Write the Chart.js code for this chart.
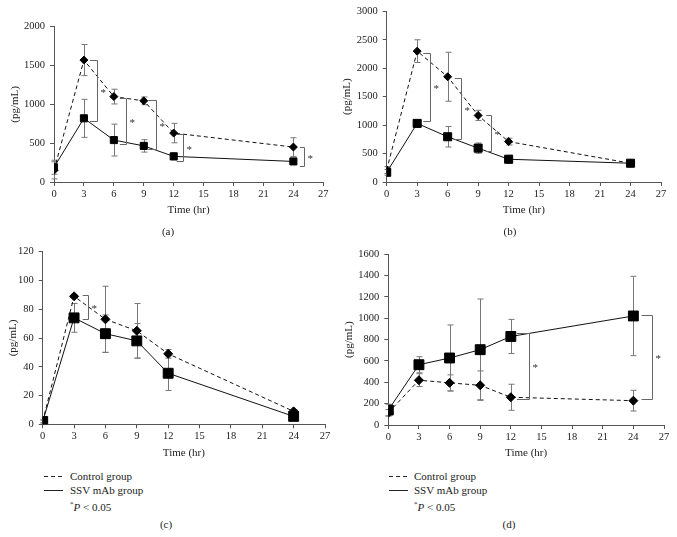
<!DOCTYPE html>
<html>
<head>
<meta charset="utf-8">
<script src="https://cdn.jsdelivr.net/npm/chart.js@4.4.0/dist/chart.umd.min.js"></script>
<style>
  body { margin: 0; background: #fff; width: 677px; height: 537px; position: relative; overflow: hidden; font-family: 'Liberation Serif', serif; color: #222; }
  .panel { position: absolute; }
  .t { position: absolute; font-size: 11px; height: 14px; line-height: 14px; white-space: nowrap; }
  .c { transform: translateX(-50%); }
  svg { position: absolute; overflow: visible; }
</style>
</head>
<body>
<div class="panel" style="left:0;top:0"><canvas id="chartA" width="340" height="225"></canvas></div>
<div class="panel" style="left:340px;top:0"><canvas id="chartB" width="337" height="225"></canvas></div>
<div class="panel" style="left:0;top:240px"><canvas id="chartC" width="340" height="225"></canvas></div>
<div class="panel" style="left:340px;top:240px"><canvas id="chartD" width="337" height="225"></canvas></div>

<div class="t c" style="left:168px;top:224px">(a)</div>
<div class="t c" style="left:510px;top:224px">(b)</div>
<div class="t c" style="left:166px;top:517px">(c)</div>
<div class="t c" style="left:509px;top:517px">(d)</div>

<svg style="left:44px;top:476px" width="20" height="2"><line x1="0" y1="0.5" x2="19" y2="0.5" stroke="#222" stroke-dasharray="4,3"/></svg>
<svg style="left:44px;top:490px" width="20" height="2"><line x1="0" y1="0.5" x2="19" y2="0.5" stroke="#222"/></svg>
<div class="t" style="left:70px;top:469px">Control group</div>
<div class="t" style="left:70px;top:483px">SSV mAb group</div>
<div class="t" style="left:70px;top:497px"><sup style="font-size:7px">*</sup><i>P</i> &lt; 0.05</div>

<svg style="left:389px;top:476px" width="20" height="2"><line x1="0" y1="0.5" x2="19" y2="0.5" stroke="#222" stroke-dasharray="4,3"/></svg>
<svg style="left:389px;top:490px" width="20" height="2"><line x1="0" y1="0.5" x2="19" y2="0.5" stroke="#222"/></svg>
<div class="t" style="left:414px;top:469px">Control group</div>
<div class="t" style="left:414px;top:483px">SSV mAb group</div>
<div class="t" style="left:414px;top:497px"><sup style="font-size:7px">*</sup><i>P</i> &lt; 0.05</div>

<script>
const times = [0, 3, 6, 9, 12, 24];

// (a)
const ctrlA = [150, 1570, 1100, 1045, 630, 450];
const ctrlAErr = [110, 200, 95, 50, 125, 120];
const ssvA = [190, 820, 540, 465, 330, 265];
const ssvAErr = [90, 245, 205, 80, 45, 40];
const brA_x = [4.3, 7.2, 10.2, 12.9, 25.05];
const brA_from = [3.6, 6.6, 9.45, 12.3, 24.65];
const brA_top = [1570, 1079, 1058, 621, 450];
const brA_bot = [780, 492, 420, 266, 205];

// (b)
const ctrlB = [210, 2300, 1850, 1170, 710, 330];
const ctrlBErr = [60, 200, 430, 90, 60, 20];
const ssvB = [170, 1030, 795, 595, 400, 330];
const ssvBErr = [50, 30, 180, 90, 70, 30];
const brB_x = [4.25, 7.27, 10.3];
const brB_from = [3.6, 6.7, 9.8];
const brB_top = [2259, 1821, 1179];
const brB_bot = [1080, 753, 537];

// (c)
const ctrlC = [2, 89, 73, 65, 49, 9];
const ctrlCErr = [1, 1, 23, 19, 3, 1];
const ssvC = [2, 74, 63, 58, 35.5, 5.5];
const ssvCErr = [1, 10, 13, 12, 12, 1];
const brC_x = [4.31];
const brC_from = [3.83];
const brC_top = [90];
const brC_bot = [73];

// (d)
const ctrlD = [115, 420, 395, 372, 260, 228];
const ctrlDErr = [30, 60, 75, 135, 122, 97];
const ssvD = [140, 565, 628, 706, 830, 1022];
const ssvDErr = [55, 75, 310, 475, 160, 372];
const brD_x = [13.8, 25.8];
const brD_from = [12.6, 24.8];
const brD_top = [858, 1028];
const brD_bot = [248, 242];

const FONT = 'Liberation Serif';
const AXIS = '#555';

// error bars under the markers, significance brackets on top
const extras = {
  id: 'extras',
  beforeDatasetsDraw(chart, args, opts) {
    const { ctx, scales: { x, y } } = chart;
    ctx.save();
    ctx.strokeStyle = '#777';
    ctx.lineWidth = 1;
    opts.errors.forEach((errs, di) => {
      chart.data.datasets[di].data.forEach((p, i) => {
        const px = Math.round(x.getPixelForValue(p.x)) + 0.5;
        const top = y.getPixelForValue(p.y + errs[i]);
        const bot = y.getPixelForValue(Math.max(0, p.y - errs[i]));
        ctx.beginPath();
        ctx.moveTo(px, top); ctx.lineTo(px, bot);
        ctx.moveTo(px - 3, top); ctx.lineTo(px + 3, top);
        ctx.moveTo(px - 3, bot); ctx.lineTo(px + 3, bot);
        ctx.stroke();
      });
    });
    ctx.restore();
  },
  afterDatasetsDraw(chart, args, opts) {
    const { ctx, scales: { x, y } } = chart;
    const b = opts.brackets;
    ctx.save();
    ctx.strokeStyle = '#666';
    ctx.fillStyle = '#333';
    ctx.lineWidth = 1;
    ctx.font = '11px ' + FONT;
    ctx.textBaseline = 'middle';
    b.x.forEach((bx, i) => {
      const px = Math.round(x.getPixelForValue(bx)) + 0.5;
      const fx = x.getPixelForValue(b.from[i]);
      const ty = Math.round(y.getPixelForValue(b.top[i])) + 0.5;
      const by = Math.round(y.getPixelForValue(b.bot[i])) + 0.5;
      ctx.beginPath();
      ctx.moveTo(fx, ty); ctx.lineTo(px, ty); ctx.lineTo(px, by); ctx.lineTo(fx, by);
      ctx.stroke();
      ctx.fillText('*', px + 3, (ty + by) / 2 + 2);
    });
    ctx.restore();
  }
};

function makePanel(id, p) {
  const canvas = document.getElementById(id);
  const W = canvas.width, H = canvas.height;
  const pts = vals => times.map((t, i) => ({ x: t, y: vals[i] }));
  new Chart(canvas, {
    type: 'line',
    data: {
      datasets: [{
        label: 'Control group',
        data: pts(p.ctrl),
        borderColor: '#111',
        borderWidth: 1,
        borderDash: [4, 3],
        pointStyle: 'rectRot',
        pointRadius: p.diamond,
        pointBackgroundColor: '#000',
        pointBorderColor: '#000',
        tension: 0
      }, {
        label: 'SSV mAb group',
        data: pts(p.ssv),
        borderColor: '#111',
        borderWidth: 1,
        pointStyle: 'rect',
        pointRadius: p.square,
        pointBackgroundColor: '#000',
        pointBorderColor: '#000',
        tension: 0
      }]
    },
    options: {
      responsive: false,
      animation: false,
      layout: { padding: { left: 0, top: p.top, right: W - p.right, bottom: 0 } },
      plugins: {
        legend: { display: false },
        tooltip: { enabled: false },
        extras: { errors: [p.ctrlErr, p.ssvErr], brackets: p.br }
      },
      scales: {
        x: {
          type: 'linear', min: 0, max: 27,
          grid: { drawOnChartArea: false, drawTicks: true, tickLength: 4, color: AXIS },
          border: { color: AXIS, width: 1 },
          ticks: { stepSize: 3, autoSkip: false, maxRotation: 0, padding: 2, color: '#222', font: { family: FONT, size: 10.5 } },
          title: { display: true, text: 'Time (hr)', color: '#222', font: { family: FONT, size: 11 }, padding: { top: 0, bottom: H - p.xTitle - 6.6 } },
          afterFit: s => { s.height = H - p.bottom; }
        },
        y: {
          min: 0, max: p.ymax,
          grid: { drawOnChartArea: false, drawTicks: true, tickLength: 4, color: AXIS },
          border: { color: AXIS, width: 1 },
          ticks: { stepSize: p.step, autoSkip: false, padding: 5, color: '#222', font: { family: FONT, size: 10.5 }, callback: v => String(v) },
          title: { display: true, text: '(pg/mL)', color: '#222', font: { family: FONT, size: 11 }, padding: { top: p.yTitle - 6.6, bottom: 0 } },
          afterFit: s => { s.width = p.left; }
        }
      }
    },
    plugins: [extras]
  });
}

makePanel('chartA', {
  ctrl: ctrlA, ctrlErr: ctrlAErr, ssv: ssvA, ssvErr: ssvAErr,
  br: { x: brA_x, from: brA_from, top: brA_top, bot: brA_bot },
  ymax: 2000, step: 500, left: 54, top: 26.7, right: 323.3, bottom: 182,
  xTitle: 210, yTitle: 15, diamond: 4, square: 5
});
makePanel('chartB', {
  ctrl: ctrlB, ctrlErr: ctrlBErr, ssv: ssvB, ssvErr: ssvBErr,
  br: { x: brB_x, from: brB_from, top: brB_top, bot: brB_bot },
  ymax: 3000, step: 500, left: 46.7, top: 11, right: 321, bottom: 182,
  xTitle: 210, yTitle: 7, diamond: 4, square: 5.7
});
makePanel('chartC', {
  ctrl: ctrlC, ctrlErr: ctrlCErr, ssv: ssvC, ssvErr: ssvCErr,
  br: { x: brC_x, from: brC_from, top: brC_top, bot: brC_bot },
  ymax: 120, step: 20, left: 42.7, top: 11.7, right: 325, bottom: 184.3,
  xTitle: 213, yTitle: 13.5, diamond: 4.5, square: 7
});
makePanel('chartD', {
  ctrl: ctrlD, ctrlErr: ctrlDErr, ssv: ssvD, ssvErr: ssvDErr,
  br: { x: brD_x, from: brD_from, top: brD_top, bot: brD_bot },
  ymax: 1600, step: 200, left: 48.3, top: 14.3, right: 324, bottom: 185,
  xTitle: 213, yTitle: 9, diamond: 4.5, square: 7
});
</script>
</body>
</html>
